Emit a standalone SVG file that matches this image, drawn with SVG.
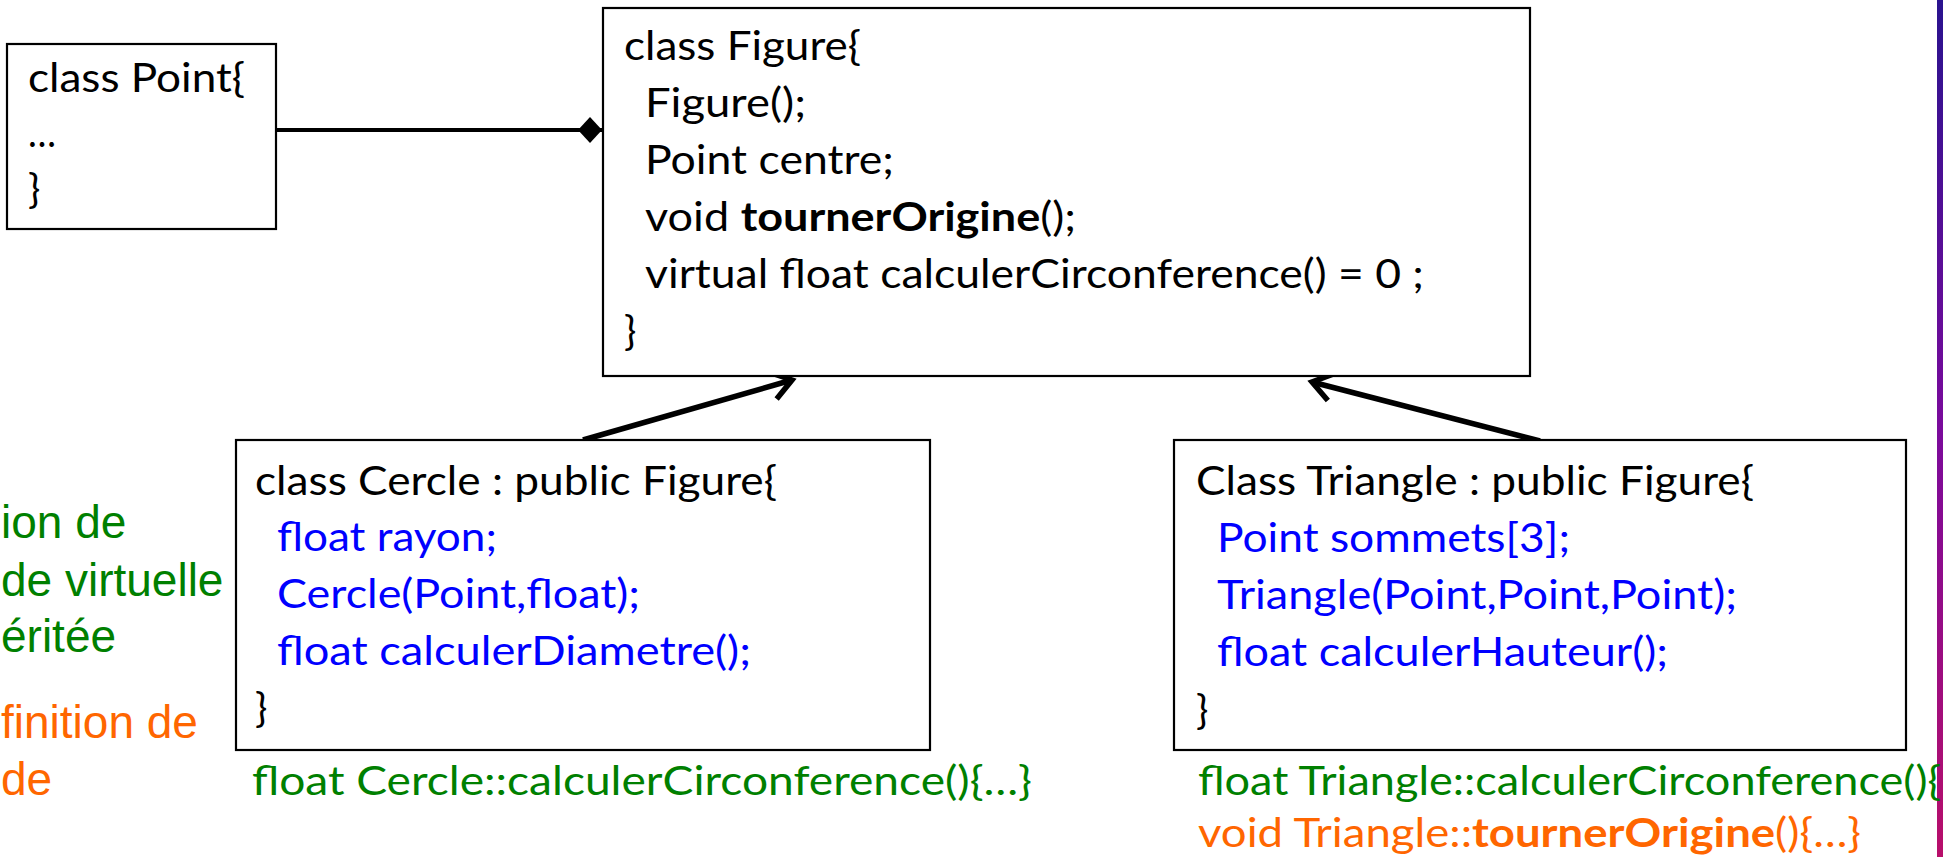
<svg xmlns="http://www.w3.org/2000/svg" width="1943" height="857" viewBox="0 0 1943 857">
<defs>
<style>
.box{fill:#fff;stroke:#000;stroke-width:2.2}
.code{font-family:Lato,"Liberation Sans",sans-serif;font-size:41px;fill:#000}
.blue{fill:#0000ff}
.green{fill:#008000}
.orange{fill:#ff6600}
.b{font-weight:bold}
.lbl{font-family:"Liberation Sans",Arial,sans-serif;font-size:46px}
.conn{stroke:#000;fill:none}
</style>
<linearGradient id="bar" x1="0" y1="0" x2="0" y2="1">
<stop offset="0" stop-color="#2a138f"/>
<stop offset="0.5" stop-color="#7a0a9c"/>
<stop offset="1" stop-color="#b80f6a"/>
</linearGradient>
<marker id="diamond" markerUnits="userSpaceOnUse" viewBox="-26 -15 28 30" markerWidth="28" markerHeight="30" refX="0" refY="0" orient="auto" overflow="visible">
<path d="M-24,0 L-12,-13 L0,0 L-12,13 Z" fill="#000"/>
</marker>
<marker id="open" markerUnits="userSpaceOnUse" viewBox="-30 -20 40 40" markerWidth="40" markerHeight="40" refX="0" refY="0" orient="auto" overflow="visible">
<path d="M-20,-14 L0,0 L-20,14" fill="none" stroke="#000" stroke-width="5.5"/>
</marker>
</defs>
<rect width="1943" height="857" fill="#fff"/>
<rect x="1937" y="0" width="6" height="857" fill="url(#bar)"/>

<g id="labels">
<text class="lbl green" x="1" y="538">ion de</text>
<text class="lbl green" x="1" y="596">de virtuelle</text>
<text class="lbl green" x="1" y="652">éritée</text>
<text class="lbl orange" x="1" y="738">finition de</text>
<text class="lbl orange" x="1" y="795">de</text>
</g>

<g id="connectors">
<line class="conn" x1="276" y1="130" x2="602" y2="130" stroke-width="4" marker-end="url(#diamond)"/>
<line class="conn" x1="583" y1="440" x2="792" y2="380" stroke-width="5.5" marker-end="url(#open)"/>
<line class="conn" x1="1540" y1="441" x2="1312" y2="382" stroke-width="5.5" marker-end="url(#open)"/>
</g>

<g id="point">
<rect class="box" x="7" y="44" width="269" height="185"/>
<text class="code" x="28" y="92" textLength="217" lengthAdjust="spacingAndGlyphs">class Point{</text>
<text class="code" x="28" y="147" textLength="28" lengthAdjust="spacingAndGlyphs">…</text>
<text class="code" x="28" y="203">}</text>
</g>

<g id="figure">
<rect class="box" x="603" y="8" width="927" height="368"/>
<text class="code" x="624" y="60" textLength="237" lengthAdjust="spacingAndGlyphs">class Figure{</text>
<text class="code" x="645" y="117" textLength="161" lengthAdjust="spacingAndGlyphs">Figure();</text>
<text class="code" x="645" y="174" textLength="249" lengthAdjust="spacingAndGlyphs">Point centre;</text>
<text class="code" x="645" y="231" textLength="431" lengthAdjust="spacingAndGlyphs">void <tspan class="b">tournerOrigine</tspan>();</text>
<text class="code" x="645" y="288" textLength="779" lengthAdjust="spacingAndGlyphs">virtual float calculerCirconference() = 0 ;</text>
<text class="code" x="624" y="345">}</text>
</g>

<g id="cercle">
<rect class="box" x="236" y="440" width="694" height="310"/>
<text class="code" x="255" y="495" textLength="522" lengthAdjust="spacingAndGlyphs">class Cercle : public Figure{</text>
<text class="code blue" x="277" y="551" textLength="220" lengthAdjust="spacingAndGlyphs">float rayon;</text>
<text class="code blue" x="277" y="608" textLength="363" lengthAdjust="spacingAndGlyphs">Cercle(Point,float);</text>
<text class="code blue" x="277" y="665" textLength="474" lengthAdjust="spacingAndGlyphs">float calculerDiametre();</text>
<text class="code" x="255" y="722">}</text>
<text class="code green" x="252" y="795" textLength="780" lengthAdjust="spacingAndGlyphs">float Cercle::calculerCirconference(){…}</text>
</g>

<g id="triangle">
<rect class="box" x="1174" y="440" width="732" height="310"/>
<text class="code" x="1196" y="495" textLength="558" lengthAdjust="spacingAndGlyphs">Class Triangle : public Figure{</text>
<text class="code blue" x="1217" y="552" textLength="353" lengthAdjust="spacingAndGlyphs">Point sommets[3];</text>
<text class="code blue" x="1217" y="609" textLength="520" lengthAdjust="spacingAndGlyphs">Triangle(Point,Point,Point);</text>
<text class="code blue" x="1217" y="666" textLength="451" lengthAdjust="spacingAndGlyphs">float calculerHauteur();</text>
<text class="code" x="1196" y="724">}</text>
<text class="code green" x="1198" y="795" textLength="743" lengthAdjust="spacingAndGlyphs">float Triangle::calculerCirconference(){</text>
<text class="code orange" x="1198" y="847" textLength="663" lengthAdjust="spacingAndGlyphs">void Triangle::<tspan class="b">tournerOrigine</tspan>(){…}</text>
</g>
</svg>
